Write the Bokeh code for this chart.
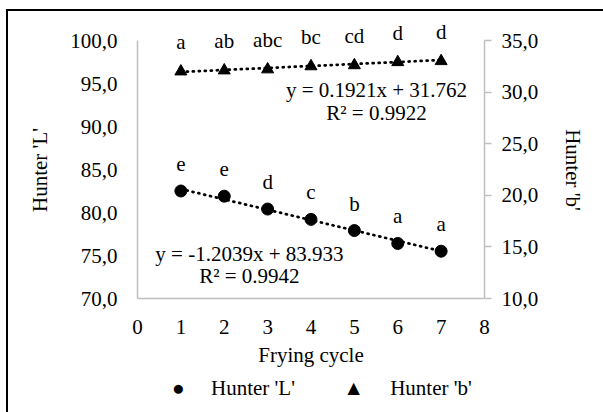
import math
from bokeh.plotting import figure
from bokeh.models import (Range1d, LinearAxis, FixedTicker, Label)
from bokeh.embed import file_html
from bokeh.resources import INLINE
from bokeh.core.properties import value

# ---- data ----
cycles = [1, 2, 3, 4, 5, 6, 7]
hunter_L = [82.5, 81.9, 80.4, 79.2, 77.9, 76.4, 75.5]
hunter_b = [32.0, 32.1, 32.2, 32.5, 32.6, 32.9, 33.0]
L_letters = ["e", "e", "d", "c", "b", "a", "a"]
b_letters = ["a", "ab", "abc", "bc", "cd", "d", "d"]
L_slope, L_intercept = -1.2039, 83.933
b_slope, b_intercept = 0.1921, 31.762
L_eq = ["y = -1.2039x + 83.933", "R² = 0.9942"]
b_eq = ["y = 0.1921x + 31.762", "R² = 0.9922"]
x_ticks = [0, 1, 2, 3, 4, 5, 6, 7, 8]
L_ticks = [70, 75, 80, 85, 90, 95, 100]
L_tick_labels = ["70,0", "75,0", "80,0", "85,0", "90,0", "95,0", "100,0"]
b_ticks = [10, 15, 20, 25, 30, 35]
b_tick_labels = ["10,0", "15,0", "20,0", "25,0", "30,0", "35,0"]
legend_labels = ["Hunter 'L'", "Hunter 'b'"]
legend_symbols = ["\u25cf", "\u25b2"]

FONT = "Liberation Serif"
FS = "21px"
GRAY = "#bfbfbf"

# axis spans 258 px; extra headroom above the top tick so labels are not clipped
AX_PX = 258
HEAD_PX = 20
FRAME_W = 347
B_LEFT, B_RIGHT, B_TOP, B_BOTTOM = 129, 119, 29 - HEAD_PX, 114
L_lo, L_hi = 70, 100
b_lo, b_hi = 10, 35
L_top = L_hi + HEAD_PX * (L_hi - L_lo) / AX_PX
b_top = b_hi + HEAD_PX * (b_hi - b_lo) / AX_PX
PAD = "\u00a0" * 4
GAP = "\u00a0" * 5

p = figure(frame_width=FRAME_W, frame_height=AX_PX + HEAD_PX,
           width=B_LEFT + FRAME_W + B_RIGHT, height=B_TOP + AX_PX + HEAD_PX + B_BOTTOM,
           x_range=Range1d(0, 8), y_range=Range1d(L_lo, L_top),
           output_backend="svg", toolbar_location=None,
           min_border_left=B_LEFT, min_border_right=B_RIGHT,
           min_border_top=B_TOP, min_border_bottom=B_BOTTOM)
p.extra_y_ranges = {"right": Range1d(b_lo, b_top)}
p.extra_x_ranges = {"legend": Range1d(0, FRAME_W)}
p.outline_line_color = None
p.xgrid.visible = False
p.ygrid.visible = False
p.background_fill_color = "white"
p.border_fill_color = "white"
p.styles = {"border-top": "2px solid black", "border-left": "2px solid black",
            "margin-left": "6px", "margin-top": "9px"}


def style_axis(ax):
    ax.axis_line_color = GRAY
    ax.axis_line_width = 1.5
    ax.major_tick_in = 0
    ax.major_tick_out = 0
    ax.minor_tick_in = 0
    ax.minor_tick_out = 0
    ax.major_label_text_font = FONT
    ax.major_label_text_font_size = FS
    ax.major_label_text_color = "black"
    ax.axis_label_text_font = FONT
    ax.axis_label_text_font_size = FS
    ax.axis_label_text_font_style = "normal"
    ax.axis_label_text_color = "black"


xa = p.xaxis[0]
style_axis(xa)
xa.ticker = FixedTicker(ticks=x_ticks)
xa.axis_label = "Frying cycle"
xa.major_label_standoff = 21
xa.axis_label_standoff = 6

ya = p.yaxis[0]
style_axis(ya)
ya.ticker = FixedTicker(ticks=L_ticks)
ya.bounds = (L_lo, L_hi)
ya.major_label_overrides = {t: s for t, s in zip(L_ticks, L_tick_labels)}
ya.axis_label = "Hunter 'L'" + PAD
ya.major_label_standoff = 20
ya.axis_label_standoff = 15

ra = LinearAxis(y_range_name="right", ticker=FixedTicker(ticks=b_ticks))
style_axis(ra)
ra.bounds = (b_lo, b_hi)
ra.major_label_overrides = {t: s for t, s in zip(b_ticks, b_tick_labels)}
ra.major_tick_out = 7
ra.major_tick_line_color = GRAY
ra.major_tick_line_width = 1.5
ra.major_label_standoff = 10
ra.axis_label = PAD + "Hunter 'b'"
ra.axis_label_standoff = 20
p.add_layout(ra, "right")

# series key, set as a bare row of labels beneath the axis title
legend_pos = [96, 270]
key = LinearAxis(x_range_name="legend", ticker=FixedTicker(ticks=legend_pos))
style_axis(key)
key.axis_line_color = None
key.major_label_standoff = 6
key.major_label_overrides = {pos: sym + GAP + lab for pos, sym, lab
                             in zip(legend_pos, legend_symbols, legend_labels)}
p.add_layout(key, "below")

# trend lines
p.line(cycles, [L_slope * c + L_intercept for c in cycles], line_color="black",
       line_width=2.75, line_dash="1 5", line_cap="round")
p.line(cycles, [b_slope * c + b_intercept for c in cycles], y_range_name="right",
       line_color="black", line_width=2.75, line_dash="1 5", line_cap="round")

p.scatter(cycles, hunter_L, marker="circle", size=12, color="black")
p.scatter(cycles, hunter_b, marker="triangle", size=12, color="black",
          y_range_name="right")

p.text(x=cycles, y=hunter_L, text=L_letters, text_font=value(FONT), text_font_size=FS,
       text_align="center", text_baseline="alphabetic", y_offset=-27, text_color="black")
p.text(x=cycles, y=hunter_b, text=b_letters, text_font=value(FONT), text_font_size=FS,
       text_align="center", text_baseline="alphabetic", y_offset=-29, text_color="black",
       y_range_name="right")

for txt, yy in zip(L_eq, [75.23, 72.67]):
    p.add_layout(Label(x=2.58, y=yy, text=txt, text_font=FONT, text_font_size=FS,
                       text_align="center", text_baseline="middle", text_color="black"))
for txt, yy in zip(b_eq, [30.16, 28.02]):
    p.add_layout(Label(x=5.51, y=yy, y_range_name="right", text=txt, text_font=FONT,
                       text_font_size=FS, text_align="center", text_baseline="middle",
                       text_color="black"))

open("out.html", "w").write(file_html(p, INLINE))
